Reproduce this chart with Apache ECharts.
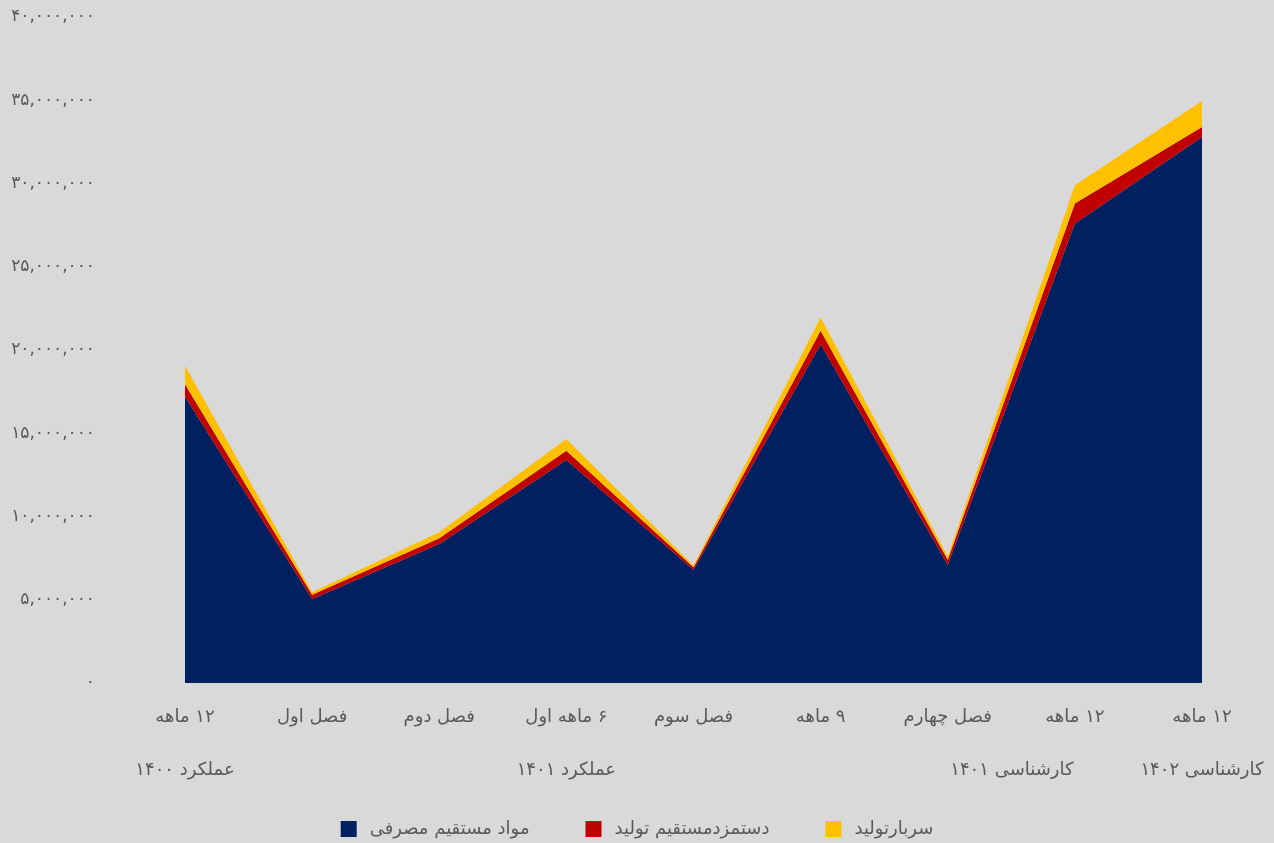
<!DOCTYPE html>
<html>
<head>
<meta charset="utf-8">
<script src="https://cdn.jsdelivr.net/npm/echarts@6.0.0/dist/echarts.min.js"></script>
<style>
  html, body { margin: 0; padding: 0; background: #d9d9d9; }
  #chart { width: 1274px; height: 843px; direction: rtl; }
</style>
</head>
<body>
<div id="chart" dir="rtl"></div>
<script>
// categories (first row) and group labels (second row)
const categories = ['۱۲ ماهه', 'فصل اول', 'فصل دوم', '۶ ماهه اول', 'فصل سوم', '۹ ماهه', 'فصل چهارم', '۱۲ ماهه', '۱۲ ماهه'];
const groupLabels = ['عملکرد ۱۴۰۰', '', '', 'عملکرد ۱۴۰۱', '', '', '', 'کارشناسی ۱۴۰۱', 'کارشناسی ۱۴۰۲'];

const seriesNames = ['مواد مستقیم مصرفی', 'دستمزدمستقیم تولید', 'سربارتولید'];
const materials = [17200000, 5050000, 8350000, 13400000, 6800000, 20350000, 7100000, 27600000, 32800000];
const labour    = [750000, 250000, 350000, 550000, 150000, 800000, 300000, 1200000, 600000];
const overhead  = [1100000, 150000, 350000, 700000, 100000, 800000, 200000, 1100000, 1550000];
const colors = ['#002060', '#c00000', '#ffc000'];

function toFa(n) {
  const s = Math.round(n).toString().replace(/\B(?=(\d{3})+(?!\d))/g, ',');
  return s.replace(/\d/g, d => '۰۱۲۳۴۵۶۷۸۹'[d]);
}

const chart = echarts.init(document.getElementById('chart'));
const font = 'DejaVu Sans';
const textColor = '#595959';

const seriesData = [materials, labour, overhead];

chart.setOption({
  backgroundColor: '#d9d9d9',
  animation: false,
  textStyle: { fontFamily: font },
  grid: { left: 185, right: 72, top: 17, bottom: 160, containLabel: false },
  legend: {
    bottom: 0,
    left: 'center',
    itemWidth: 16,
    itemHeight: 16,
    itemGap: 56,
    icon: 'rect',
    data: seriesNames,
    textStyle: { color: textColor, fontSize: 18, fontFamily: font, padding: [0, 0, 0, 8] }
  },
  xAxis: [
    {
      type: 'category',
      data: categories,
      boundaryGap: false,
      axisLine: { show: false },
      axisTick: { show: false },
      axisLabel: { interval: 0, margin: 25, color: textColor, fontSize: 18, fontFamily: font }
    },
    {
      type: 'category',
      data: groupLabels,
      boundaryGap: false,
      position: 'bottom',
      axisLine: { show: false },
      axisTick: { show: false },
      axisLabel: {
        interval: 0,
        margin: 78,
        color: textColor,
        fontSize: 18,
        fontFamily: font,
        formatter: function (v, i) {
          return i === 7 ? '{s|' + v + '}' : v;
        },
        rich: {
          s: { padding: [0, 126, 0, 0], color: textColor, fontSize: 18, fontFamily: font }
        }
      }
    }
  ],
  yAxis: {
    type: 'value',
    min: 0,
    max: 40000000,
    interval: 5000000,
    splitLine: { show: false },
    axisLine: { show: false },
    axisTick: { show: false },
    axisLabel: {
      margin: 90,
      color: textColor,
      fontSize: 17,
      fontFamily: font,
      formatter: v => toFa(v)
    }
  },
  series: seriesNames.map((name, i) => ({
    name: name,
    type: 'line',
    stack: 'total',
    data: seriesData[i],
    symbol: 'none',
    showSymbol: false,
    lineStyle: { width: 0 },
    itemStyle: { color: colors[i] },
    areaStyle: { color: colors[i], opacity: 1 }
  }))
});
</script>
</body>
</html>
